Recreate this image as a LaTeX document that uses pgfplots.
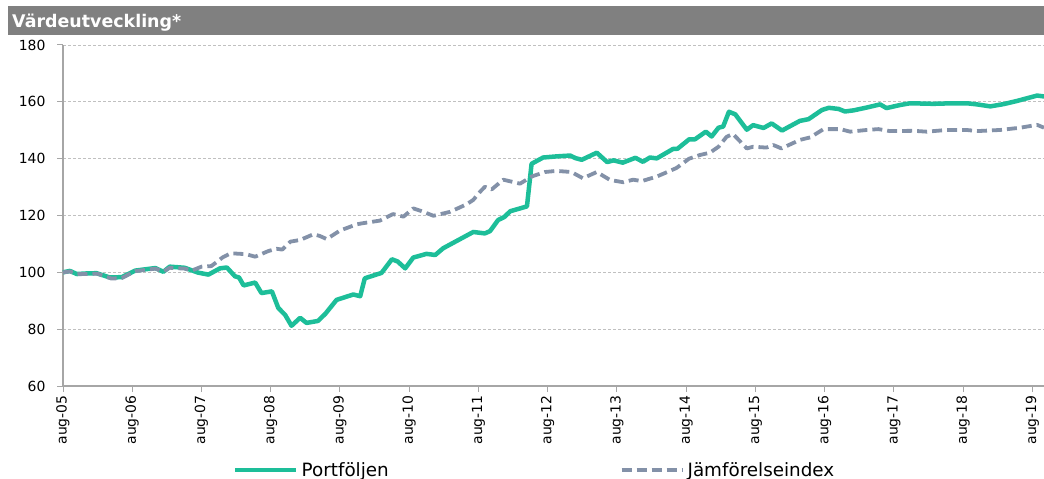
\documentclass[border=0pt]{standalone}
\usepackage{pgfplots}
\pgfplotsset{compat=1.18}
\usepackage{fontspec}
\setmainfont{DejaVu Sans}
\definecolor{teal1}{RGB}{29,190,153}
\definecolor{idx}{RGB}{131,145,168}
\definecolor{barg}{RGB}{128,128,128}
\definecolor{axg}{RGB}{166,166,166}
\definecolor{gridg}{RGB}{192,192,192}
\begin{document}
\begin{tikzpicture}
\useasboundingbox (-63bp,-93bp) rectangle (981bp,386bp);
\fill[barg] (-55bp,351bp) rectangle (981bp,380bp);
\node[anchor=base west, inner sep=0pt, text=white, font=\bfseries\fontsize{17.5}{20}\selectfont] at (-51bp,358.7bp) {Värdeutveckling*};
\begin{axis}[
  scale only axis,
  width=981bp, height=341bp,
  xmin=0, xmax=170, ymin=60, ymax=180,
  axis x line*=bottom, axis y line*=left,
  axis line style={axg, line width=1.5bp, -},
  tick align=outside,
  major tick length=6bp,
  tick style={axg, line width=1bp},
  xtick={0,12,...,168},
  xticklabels={aug-05,aug-06,aug-07,aug-08,aug-09,aug-10,aug-11,aug-12,aug-13,aug-14,aug-15,aug-16,aug-17,aug-18,aug-19},
  xticklabel style={rotate=90, anchor=east, font=\fontsize{14}{16}\selectfont},
  ytick={60,80,...,180},
  yticklabel style={font=\fontsize{14}{16}\selectfont, xshift=-8bp},
  /pgf/number format/assume math mode=true,
  ymajorgrids,
  major grid style={gridg, line width=0.8bp, dash pattern=on 3bp off 2bp},
  clip=false,
  legend columns=2,
  legend style={at={(axis description cs:0.1733,-0.246)}, anchor=west, draw=none, fill=none, inner sep=0pt,
    font=\fontsize{18.4}{20}\selectfont,
    nodes={inner sep=3bp},
    /tikz/every even column/.append style={column sep=228bp}},
  legend image code/.code={\draw[#1] (0bp,0bp) -- (61bp,0bp);},
]
\addplot[teal1, line width=4.5bp, line join=round] coordinates {
(0,100) (1.2,100.5) (2.4,99.4) (4,99.6) (5.8,99.7) (8.1,98.2) (10.2,98.3) (12.5,100.6) (14,101) (16,101.5) (17.4,100.2) (18.5,102) (21.1,101.6) (23.4,99.9) (25.2,99.2) (27.2,101.4) (28.4,101.7) (29.8,98.6) (30.5,98.2) (31.3,95.4) (33.3,96.4) (34.4,92.7) (36.2,93.3) (37.3,87.5) (38.5,85) (39.6,81.2) (41.1,84) (42.2,82.2) (44.2,82.9) (45.5,85.5) (47.4,90.3) (50.3,92.2) (51.5,91.6) (52.3,97.9) (55.2,99.8) (57,104.6) (58,103.8) (59.3,101.4) (60.7,105.2) (63,106.5) (64.5,106.1) (65.9,108.5) (71.1,114.2) (73.1,113.7) (74,114.5) (75.4,118.4) (76.5,119.5) (77.5,121.5) (80.4,123.2) (81.2,138.2) (83.2,140.4) (85.5,140.8) (87.9,141.1) (88.8,140.2) (89.9,139.6) (92.5,142.1) (94.3,138.8) (95.4,139.4) (97,138.6) (99.2,140.3) (100.5,138.9) (101.7,140.4) (102.9,140.1) (105.7,143.4) (106.5,143.5) (108.5,146.8) (109.5,146.8) (111.4,149.5) (112.4,147.8) (113.6,150.9) (114.4,151.3) (115.4,156.5) (116.5,155.6) (118.5,150.2) (119.6,151.8) (121.4,150.8) (122.8,152.4) (124.6,149.9) (127.7,153.3) (129.2,153.9) (131.5,157.1) (132.7,157.9) (134.4,157.5) (135.5,156.6) (137,157) (139.3,158) (141.6,159.1) (142.7,157.8) (145.1,158.9) (146.8,159.5) (150.8,159.3) (154.3,159.5) (156.6,159.5) (158.4,159.1) (160.7,158.4) (163,159.2) (165.3,160.3) (168.8,162.2) (170,161.9)
};
\addlegendentry{Portföljen}
\addplot[idx, line width=3.8bp, dash pattern=on 10bp off 5bp, line join=round] coordinates {
(0,100) (1.2,100.3) (2.4,99.4) (6,99.5) (8.4,97.8) (10.2,98) (12.5,100.4) (16,101.3) (17.4,100.3) (18.5,101.6) (21.1,101.3) (22.3,100.6) (24,102) (25.7,102.2) (27.7,105.3) (29.1,106.7) (31.7,106.4) (33.3,105.5) (35.6,107.5) (37,108.3) (38,108) (39.4,110.8) (41.1,111.4) (43.4,113.4) (44.5,112.8) (45.7,111.7) (48,114.7) (50.9,116.9) (52,117.3) (54.9,118.2) (57.2,120.5) (59,119.6) (60.7,122.5) (61.9,121.7) (64.2,119.9) (67.1,121.3) (70,124) (71.1,125.5) (72.3,128.4) (73.1,130.1) (74.3,129.2) (76.3,132.6) (79.2,131.2) (81.2,133.7) (83.5,135.3) (85.5,135.7) (88.1,135.3) (90.1,133.1) (92.5,135.3) (94.8,132.5) (97.1,131.7) (98.8,132.6) (100.3,132.1) (102.9,133.7) (106.3,136.7) (108.5,140) (110.4,141.3) (112.1,142.1) (113.6,144.2) (115,147.7) (116.1,148.7) (118.5,143.6) (119.6,144.2) (121.9,143.9) (123.1,144.8) (124.5,143.6) (127.7,146.6) (129.5,147.5) (131.8,150.4) (134.7,150.4) (136.4,149.5) (139.3,150.1) (141.3,150.4) (143.3,149.7) (147.4,149.8) (149.7,149.5) (153.1,150.1) (156.6,150.1) (158.4,149.7) (162.4,150.1) (165.9,150.9) (168.8,151.9) (170,150.9)
};
\addlegendentry{Jämförelseindex}
\end{axis}
\end{tikzpicture}
\end{document}
